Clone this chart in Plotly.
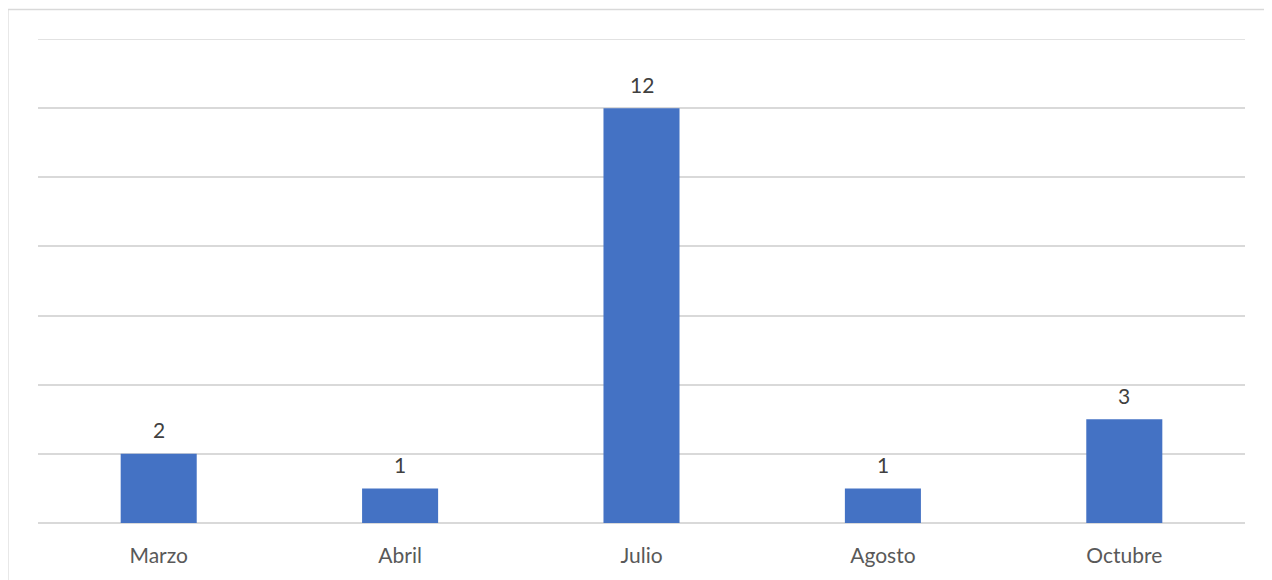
import plotly.graph_objects as go

categories = ["Marzo", "Abril", "Julio", "Agosto", "Octubre"]
values = [2, 1, 12, 1, 3]
y_ticks = [0, 2, 4, 6, 8, 10, 12, 14]

fig = go.Figure(go.Bar(
    x=categories, y=values,
    marker=dict(color="#4472C4", line=dict(width=0)),
    width=0.315,
))

annotations = [
    dict(x=c, y=v, xref="x", yref="y", text=str(v), showarrow=False,
         yanchor="middle", yshift=24,
         font=dict(color="#404040", size=21, family="Lato"))
    for c, v in zip(categories, values)
]

shapes = [dict(type="rect", xref="paper", yref="paper",
               x0=-0.0249, x1=1.0215, y0=-0.2, y1=1.061,
               line=dict(color="#D9D9D9", width=1.3), layer="below"),
          dict(type="line", xref="paper", yref="y", x0=0, x1=1,
               y0=y_ticks[-1], y1=y_ticks[-1],
               line=dict(color="#D9D9D9", width=1.5), layer="below")]

fig.update_layout(
    width=1264, height=572,
    margin=dict(l=30, r=27, t=31, b=57),
    paper_bgcolor="white", plot_bgcolor="white",
    showlegend=False,
    font=dict(family="Lato", size=21, color="#595959"),
    xaxis=dict(showgrid=False, showline=False, ticks="", ticklabelstandoff=18,
               tickfont=dict(color="#595959", size=21, family="Lato")),
    yaxis=dict(range=[0, 14], tickvals=y_ticks, showticklabels=False,
               showgrid=True, gridcolor="#D9D9D9", gridwidth=1.5,
               zeroline=True, zerolinecolor="#D9D9D9", zerolinewidth=1.5),
    annotations=annotations,
    shapes=shapes,
)

fig.write_html("out.html")
